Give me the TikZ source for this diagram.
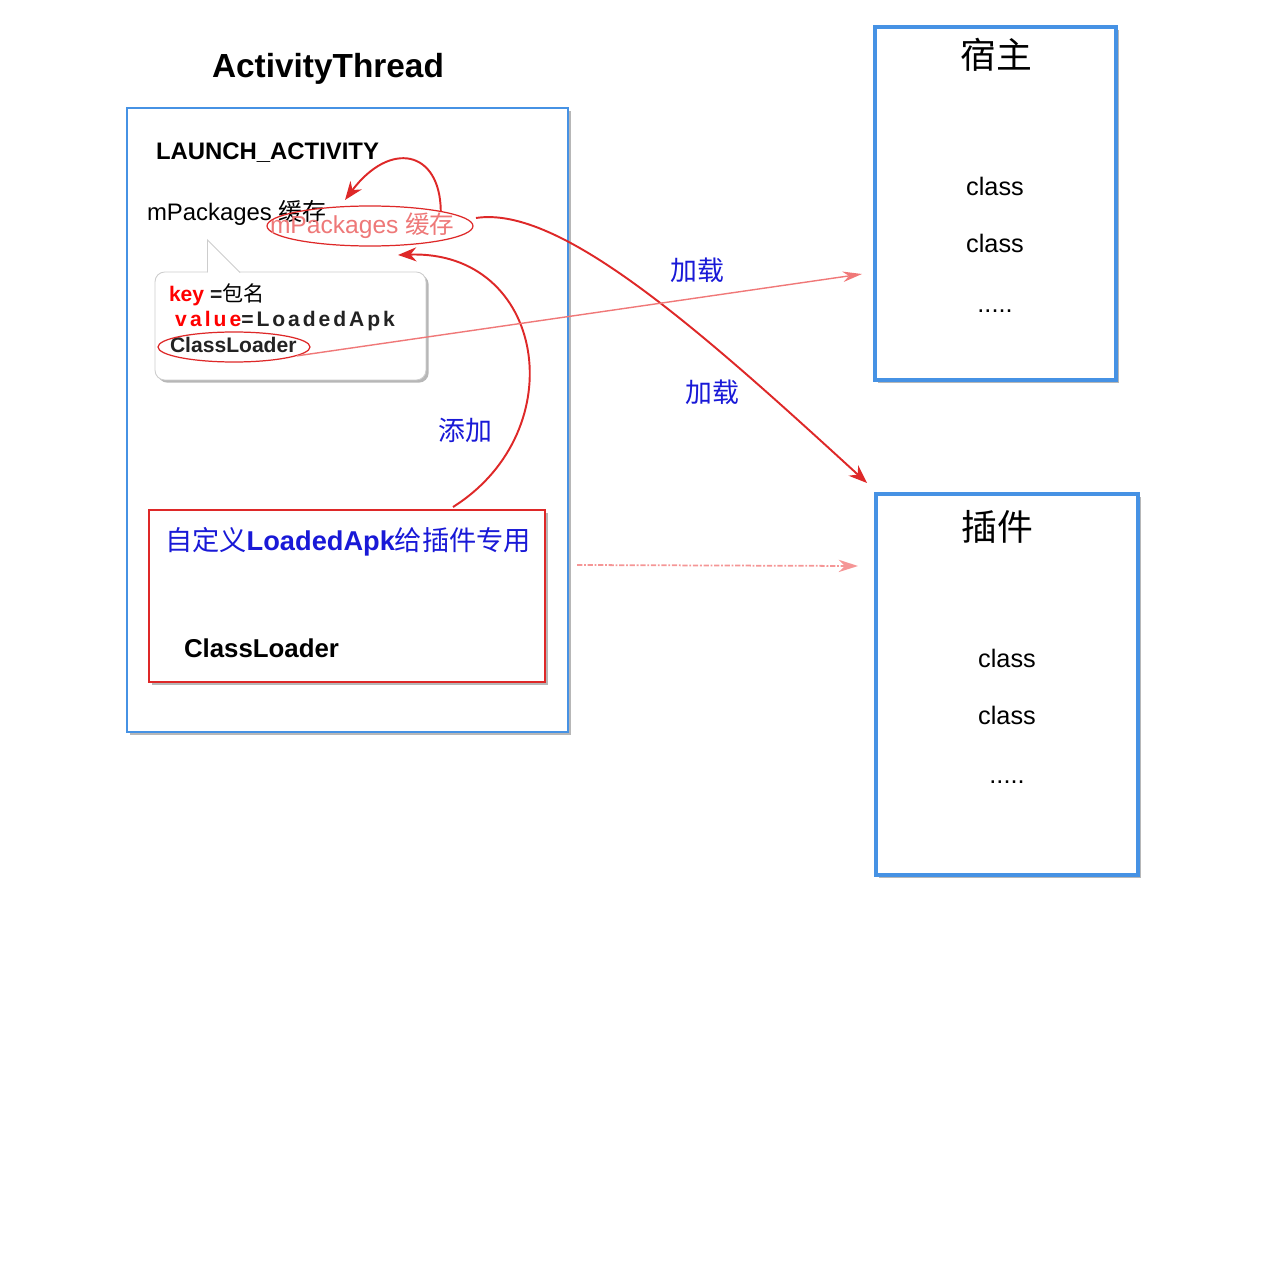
\documentclass[tikz,border=0pt]{standalone}
\usepackage{fontspec}
\setmainfont{Liberation Sans}
\newfontfamily\cjk{Noto Sans CJK SC}
\usetikzlibrary{shapes.geometric,arrows.meta,shadows}
\definecolor{bluebox}{RGB}{70,146,228}
\definecolor{redline}{RGB}{222,40,40}
\definecolor{lightred}{RGB}{238,120,120}
\definecolor{paleredline}{RGB}{240,120,120}
\definecolor{dashred}{RGB}{245,150,150}
\definecolor{bluetxt}{RGB}{25,25,215}
\definecolor{darktxt}{RGB}{35,35,35}
\definecolor{calloutgray}{RGB}{205,205,205}
\begin{document}
\begin{tikzpicture}[x=0.02cm,y=-0.02cm,
  txt/.style={inner sep=0pt, outer sep=0pt},
  sz13/.style={font=\fontsize{13.6pt}{16pt}\selectfont},
  sz12/.style={font=\fontsize{12pt}{14pt}\selectfont},
  boxshadow/.style={drop shadow={shadow xshift=1.5pt, shadow yshift=-1.5pt, opacity=0.4, fill=black!70}},
  outerbox/.style={draw=bluebox, line width=1.1pt, fill=white, boxshadow, inner sep=0pt},
  sidebox/.style={draw=bluebox, line width=1.8pt, fill=white, boxshadow, inner sep=0pt},
  redbox/.style={draw=redline, line width=1.2pt, fill=white, boxshadow, inner sep=0pt},
  calloutbox/.style={draw=calloutgray, line width=0.5pt, fill=white, rounded corners=5.5pt, boxshadow, inner sep=0pt},
  ringred/.style={ellipse, draw=redline, line width=0.7pt, inner sep=0pt},
  redarrow/.style={draw=redline, line width=1.1pt, -{Stealth[length=10.5pt,width=8pt]}},
  palearrow/.style={draw=paleredline, line width=0.8pt, -{Stealth[length=11pt,width=6pt]}},
  dasharrow/.style={draw=dashred, line width=1pt, dash pattern=on 3pt off 1pt on 1pt off 1pt, -{Stealth[length=11pt,width=7pt]}},
  bluelabel/.style={txt, text=bluetxt, font=\cjk\fontsize{15.3pt}{18pt}\selectfont},
]
\useasboundingbox (0,0) rectangle (1280,1280);

% ---- ActivityThread box ----
\node[txt, anchor=base, font=\bfseries\fontsize{19pt}{22pt}\selectfont] (title) at (328,78) {ActivityThread};
\node[outerbox, minimum width=8.82cm, minimum height=12.48cm] (atbox) at (347.5,420) {};

\node[txt, anchor=base west, font=\bfseries\fontsize{13.6pt}{16pt}\selectfont] (launch) at (156,160) {LAUNCH\_ACTIVITY};
\node[txt, sz13, anchor=base west] (mpk) at (147,221) {mPackages {\cjk 缓存}};

\node[ringred, minimum width=4.12cm, minimum height=0.8cm] (cacheell) at (370,226) {};
\node[txt, anchor=base west, text=lightred, font=\fontsize{14pt}{16pt}\selectfont] (cachetxt) at (270,234) {mPackages {\cjk 缓存}};

% ---- callout ----
\node[calloutbox, minimum width=5.42cm, minimum height=2.16cm] (callout) at (290.5,326) {};
\fill[white] (207.5,274) -- (207.5,240) -- (241,274) -- cycle;
\draw[draw=calloutgray, line width=0.5pt] (207.5,272.5) -- (207.5,240) -- (240,272.5);

\node[txt, sz12, anchor=base west] (keyline) at (169,301) {{\bfseries\color{red}key} \textcolor{darktxt}{\bfseries =}{\cjk 包名}};
\node[txt, sz12, anchor=base west] (valline) at (175,326) {\bfseries\addfontfeature{LetterSpace=14}{\color{red}v\hspace{2pt}alue}\textcolor{darktxt}{=LoadedApk}};
\node[txt, sz12, anchor=base west, text=darktxt] (cl1) at (170,352) {\bfseries ClassLoader};
\node[ringred, minimum width=3.04cm, minimum height=0.6cm] (clell) at (234,347) {};

% ---- custom LoadedApk box ----
\node[redbox, minimum width=7.92cm, minimum height=3.44cm] (rbox) at (347,596) {};
\node[txt, anchor=base west, text=bluetxt, font=\fontsize{15.5pt}{18pt}\selectfont] (rtitle) at (165,550) {{\cjk 自定义}{\bfseries LoadedApk}{\cjk 给插件专用}};
\node[txt, anchor=base west, font=\bfseries\fontsize{14.7pt}{17pt}\selectfont] (cl2) at (184,657) {ClassLoader};

% ---- host box ----
\node[sidebox, minimum width=4.82cm, minimum height=7.06cm] (host) at (995.5,203.5) {};
\node[txt, font=\cjk\fontsize{20.4pt}{24pt}\selectfont] (hosttitle) at (996,55) {宿主};
\node[txt, anchor=base, font=\fontsize{14.4pt}{17pt}\selectfont] (hc1) at (995,196) {class};
\node[txt, anchor=base, font=\fontsize{14.4pt}{17pt}\selectfont] (hc2) at (995,253) {class};
\node[txt, anchor=base, font=\fontsize{14.4pt}{17pt}\selectfont] (hc3) at (995,313) {.....};

% ---- plugin box ----
\node[sidebox, minimum width=5.24cm, minimum height=7.62cm] (plugin) at (1007,684.5) {};
\node[txt, font=\cjk\fontsize{20.4pt}{24pt}\selectfont] (plugintitle) at (997,527) {插件};
\node[txt, anchor=base, font=\fontsize{14.4pt}{17pt}\selectfont] (pc1) at (1007,667) {class};
\node[txt, anchor=base, font=\fontsize{14.4pt}{17pt}\selectfont] (pc2) at (1007,724) {class};
\node[txt, anchor=base, font=\fontsize{14.4pt}{17pt}\selectfont] (pc3) at (1007,783) {.....};

% ---- labels ----
\node[bluelabel] (load1) at (697,270) {加载};
\node[bluelabel] (load2) at (712,392) {加载};
\node[bluelabel] (addlbl) at (465,430) {添加};

% ---- connector end points ----
\coordinate (looptip) at (345,200);
\coordinate (ldstart) at (476,218);
\coordinate (plugintip) at (867,483);
\coordinate (addstart) at (453,507);
\coordinate (addtip) at (398,255);
\coordinate (hosttip) at (862,274);
\coordinate (dashstart) at (577,565);
\coordinate (dashtip) at (858,566);

% ---- connectors ----
\draw[redarrow] (cacheell.12) .. controls (440,150) and (390,140) .. (looptip);
\draw[redarrow] (ldstart) .. controls (560,205) and (700,330) .. (plugintip);
\draw[redarrow] (addstart) .. controls (575,430) and (545,250) .. (addtip);
\draw[palearrow] (clell.-8) -- (hosttip);
\draw[dasharrow] (dashstart) -- (dashtip);
\end{tikzpicture}
\end{document}
